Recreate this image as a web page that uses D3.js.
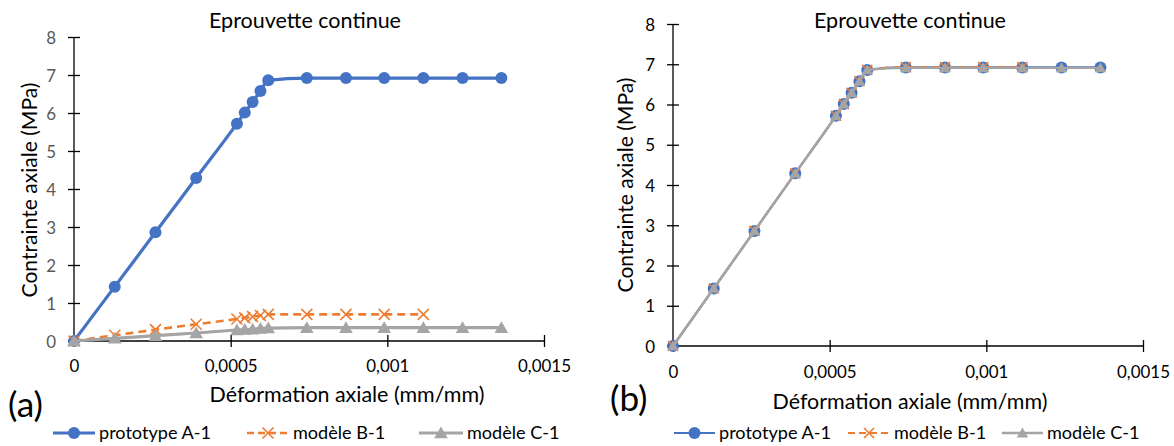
<!DOCTYPE html>
<html><head><meta charset="utf-8">
<script src="https://cdn.jsdelivr.net/npm/d3@7"></script>
<style>
body{margin:0;background:#fff;}
svg{display:block;font-family:Lato,"Open Sans",sans-serif;}
</style></head>
<body><svg id="c" width="1174" height="446"></svg>
<script>
// ---- data ----
const title = "Eprouvette continue";
const xLabel = "Déformation axiale (mm/mm)";
const yLabel = "Contrainte axiale (MPa)";
const seriesNames = ["prototype A-1", "modèle B-1", "modèle C-1"];
const xTicks = [0, 0.0005, 0.001, 0.0015];
const yTicks = [0, 1, 2, 3, 4, 5, 6, 7, 8];

const strainA = [0, 0.00013, 0.00026, 0.00039, 0.00052, 0.000545, 0.00057, 0.000595, 0.00062, 0.000743, 0.000868, 0.00099, 0.001115, 0.00124, 0.001364];
const strainB = [0, 0.00013, 0.00026, 0.00039, 0.00052, 0.000545, 0.00057, 0.000595, 0.00062, 0.000743, 0.000868, 0.00099, 0.001115];
const strainC = [0, 0.00013, 0.00026, 0.00039, 0.00052, 0.000545, 0.00057, 0.000595, 0.00062, 0.000743, 0.000868, 0.00099, 0.001115, 0.00124, 0.001364];

// panel (a)
const stressA = [0, 1.43, 2.86, 4.29, 5.72, 6.01, 6.29, 6.58, 6.86, 6.92, 6.92, 6.92, 6.92, 6.92, 6.92];
const stressB_a = [0, 0.15, 0.30, 0.44, 0.58, 0.61, 0.64, 0.67, 0.70, 0.70, 0.70, 0.70, 0.70];
const stressC_a = [0, 0.07, 0.14, 0.21, 0.29, 0.30, 0.31, 0.33, 0.34, 0.35, 0.35, 0.35, 0.35, 0.35, 0.35];
// panel (b)
const stressB_b = [0, 1.43, 2.86, 4.29, 5.72, 6.01, 6.29, 6.58, 6.86, 6.93, 6.93, 6.93, 6.93];
const stressC_b = [0, 1.43, 2.86, 4.29, 5.72, 6.01, 6.29, 6.58, 6.86, 6.91, 6.91, 6.91, 6.91, 6.91, 6.91];

const colors = ["#4472C4", "#ED7D31", "#A5A5A5"];

const svg = d3.select("#c");
const fmt = d => d === 0 ? "0" : String(d).replace(".", ",");

// font size that makes a probe string reach a target width
function fitSize(str, target) {
  const t = svg.append("text").style("font-size", "20px").text(str);
  const w = t.node().getComputedTextLength();
  t.remove();
  return 20 * target / w;
}
const fsTitle = fitSize(title, 192);
const fsXLab = fitSize(xLabel, 275);
const fsYLab = fitSize(yLabel, 215);
const fsTick = fitSize("0,0005", 53);
const fsLeg = fitSize(seriesNames[0], 112);
const fsTag = fitSize("(a)", 35);

function panel(o) {
  const g = svg.append("g");
  const x = d3.scaleLinear().domain([0, 0.0015]).range([o.x0, o.x1]);
  const y = d3.scaleLinear().domain([0, 8]).range([o.y0, o.y1]);

  // axes
  const yAx = g.append("g").attr("transform", `translate(${o.x0},0)`)
    .call(d3.axisLeft(y).tickValues(yTicks).tickSize(6).tickSizeOuter(0).tickFormat(d3.format("d")));
  yAx.selectAll(".tick line").attr("x1", 6).attr("x2", -6);
  yAx.select(".domain").attr("d", `M0,${o.y0}V${o.y1}`);
  yAx.selectAll("text").attr("x", -18).attr("dy", "0.36em").style("font-size", fsTick + "px").attr("fill", o.yTickColor);
  yAx.attr("font-family", null).attr("font-size", null);

  const xAx = g.append("g").attr("transform", `translate(0,${o.y0})`)
    .call(d3.axisBottom(x).tickValues(xTicks).tickSize(6).tickSizeOuter(0).tickFormat(fmt));
  xAx.selectAll(".tick line").attr("y1", -6).attr("y2", 6);
  xAx.select(".domain").attr("d", `M${o.x0},0H${o.x1}`);
  xAx.selectAll("text").attr("y", o.xTickBase).attr("dy", null).style("font-size", fsTick + "px").attr("fill", "#000");
  xAx.attr("font-family", null).attr("font-size", null);
  g.selectAll(".domain, .tick line").attr("stroke", "#000").attr("stroke-width", 1.3);

  // title and labels
  g.append("text").attr("x", o.titleX).attr("y", 28).attr("text-anchor", "middle")
    .style("font-size", fsTitle + "px").text(title);
  g.append("text").attr("x", o.xLabX).attr("y", o.xLabY).attr("text-anchor", "middle")
    .style("font-size", fsXLab + "px").text(xLabel);
  g.append("text").attr("transform", `translate(${o.yLabX},${o.yLabY}) rotate(-90)`).attr("text-anchor", "middle")
    .style("font-size", fsYLab + "px").text(yLabel);
  g.append("text").attr("x", o.tagX).attr("y", o.tagY).style("font-size", fsTag + "px").text(o.tag);

  const line = d3.line().x(d => x(d[0])).y(d => y(d[1])).curve(d3.curveMonotoneX);
  const series = [
    d3.zip(strainA, o.A), d3.zip(strainB, o.B), d3.zip(strainC, o.C)
  ];
  const dash = [null, "8,5", null];
  const lw = o.lw;
  series.forEach((s, i) => {
    g.append("path").datum(s).attr("d", line).attr("fill", "none")
      .attr("stroke", colors[i]).attr("stroke-width", lw[i]).attr("stroke-dasharray", dash[i]);
    drawMarkers(g, s.map(d => [x(d[0]), y(d[1])]), i, o.ms);
  });

  // legend
  o.legend.forEach((L, i) => {
    g.append("line").attr("x1", L[0]).attr("x2", L[1]).attr("y1", 433).attr("y2", 433)
      .attr("stroke", colors[i]).attr("stroke-width", lw[i]).attr("stroke-dasharray", dash[i] ? "7,4" : null);
    drawMarkers(g, [[(L[0] + L[1]) / 2, 433]], i, o.ms);
    g.append("text").attr("x", L[1] + 4).attr("y", 438.5)
      .style("font-size", fsLeg + "px").text(seriesNames[i]);
  });
}

function drawMarkers(g, pts, i, ms) {
  const c = colors[i];
  if (i === 0) {
    g.selectAll(null).data(pts).enter().append("circle")
      .attr("cx", d => d[0]).attr("cy", d => d[1]).attr("r", ms[0]).attr("fill", c);
  } else if (i === 1) {
    const r = ms[1];
    g.selectAll(null).data(pts).enter().append("path")
      .attr("d", d => `M${d[0]-r},${d[1]-r}L${d[0]+r},${d[1]+r}M${d[0]-r},${d[1]+r}L${d[0]+r},${d[1]-r}`)
      .attr("stroke", c).attr("stroke-width", 1.6).attr("fill", "none");
  } else {
    const r = ms[2];
    g.selectAll(null).data(pts).enter().append("path")
      .attr("d", d => `M${d[0]},${d[1]-r}L${d[0]+r*1.05},${d[1]+r*0.8}L${d[0]-r*1.05},${d[1]+r*0.8}Z`)
      .attr("fill", c);
  }
}

panel({
  x0: 74, x1: 544, y0: 341, y1: 37, yTickColor: "#595959", xTickBase: 31, titleX: 305,
  xLabX: 347, xLabY: 402, yLabX: 37, yLabY: 190, tag: "(a)", tagX: 8, tagY: 417,
  A: stressA, B: stressB_a, C: stressC_a, lw: [3.2, 2.6, 3.2], ms: [6, 5.5, 6.5],
  legend: [[53, 95], [247, 289], [419, 463]]
});
panel({
  x0: 673, x1: 1143, y0: 346, y1: 24, yTickColor: "#000", xTickBase: 32, titleX: 910,
  xLabX: 910, xLabY: 409, yLabX: 633, yLabY: 185, tag: "(b)", tagX: 610, tagY: 411,
  A: stressA, B: stressB_b, C: stressC_b, lw: [2.2, 2.2, 2.4], ms: [6, 5, 5.5],
  legend: [[674, 715], [848, 890], [1002, 1043]]
});
</script></body></html>
